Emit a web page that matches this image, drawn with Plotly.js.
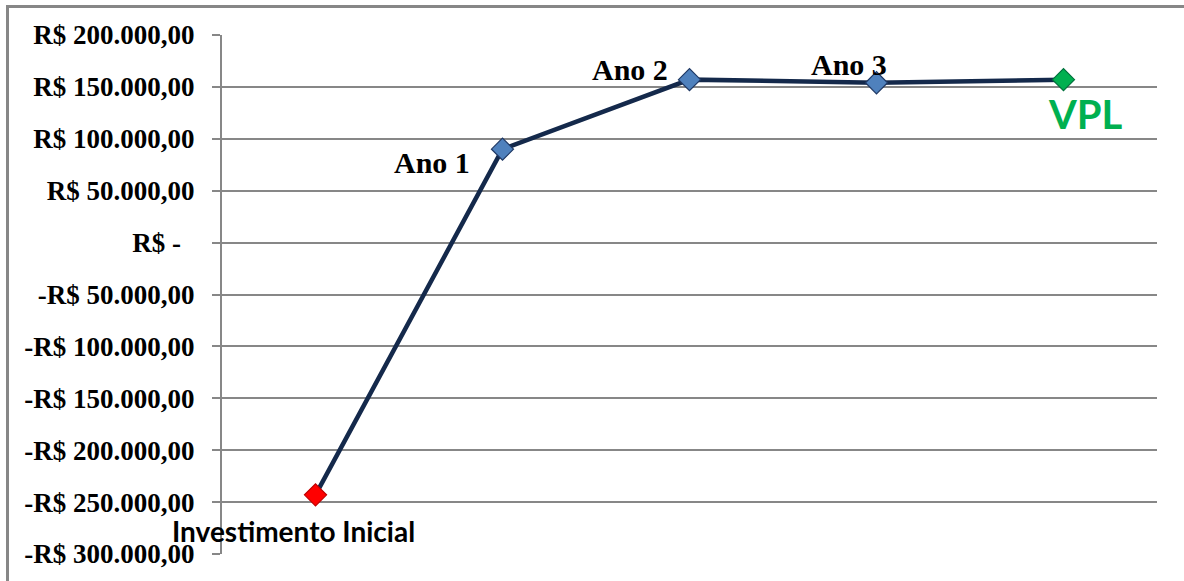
<!DOCTYPE html>
<html>
<head>
<meta charset="utf-8">
<script src="https://cdn.plot.ly/plotly-3.0.1.min.js"></script>
<style>
  html, body { margin: 0; padding: 0; background: #fff; }
  #wrap { position: relative; width: 1184px; height: 581px; overflow: hidden; }
  #frame { position: absolute; left: 6px; top: 5px; width: 1200px; height: 600px;
           border-left: 3px solid #878787; border-top: 3px solid #878787; box-sizing: border-box; }
  #chart { position: absolute; left: 0; top: 0; width: 1184px; height: 581px; }
</style>
</head>
<body>
<div id="wrap">
  <div id="frame"></div>
  <div id="chart"></div>
</div>
<script>
// Data
const categories = ["Investimento Inicial", "Ano 1", "Ano 2", "Ano 3", "VPL"];
const values = [-243000, 90000, 157000, 154000, 157000];
const markerColors = ["#FF0000", "#4F81BD", "#4F81BD", "#4F81BD", "#00B050"];
const markerLineColors = ["#C00000", "#1F3864", "#1F3864", "#1F3864", "#00703C"];
const tickValues = [200000, 150000, 100000, 50000, 0, -50000, -100000, -150000, -200000, -250000, -300000];
const tickLabels = ["R$ 200.000,00", "R$ 150.000,00", "R$ 100.000,00", "R$ 50.000,00", "R$ -\u00a0\u00a0",
  "-R$ 50.000,00", "-R$ 100.000,00", "-R$ 150.000,00", "-R$ 200.000,00", "-R$ 250.000,00", "-R$ 300.000,00"];

// Label styling (offsets in px from each point)
const serif = "'Liberation Serif', 'Times New Roman', serif";
const sans = "Lato, 'Noto Sans', sans-serif";
const labelStyle = [
  {xshift: -22, yshift: -36, font: {family: sans, size: 28, weight: 700, color: "#000"}},
  {xshift: -71, yshift: -13, font: {family: serif, size: 30, weight: 700, color: "#000"}},
  {xshift: -60, yshift: 10, font: {family: serif, size: 30, weight: 700, color: "#000"}},
  {xshift: -28, yshift: 18, font: {family: serif, size: 30, weight: 700, color: "#000"}},
  {xshift: 22, yshift: -34, font: {family: sans, size: 40, weight: 700, color: "#00B050"}}
];

const trace = {
  type: "scatter",
  mode: "lines+markers",
  x: categories,
  y: values,
  line: {color: "#14294B", width: 4.5},
  marker: {symbol: "diamond", size: 17, color: markerColors, line: {color: markerLineColors, width: 1.2}},
  hoverinfo: "none"
};

const annotations = categories.map((c, i) => Object.assign({
  x: c, y: values[i], xref: "x", yref: "y", text: c, showarrow: false,
  xanchor: "center", yanchor: "middle"
}, labelStyle[i]));

const layout = {
  width: 1184, height: 581,
  margin: {l: 222, r: 27, t: 35, b: 27, pad: 0},
  paper_bgcolor: "rgba(0,0,0,0)",
  plot_bgcolor: "rgba(0,0,0,0)",
  showlegend: false,
  xaxis: {
    type: "category", range: [-0.5, 4.5], showticklabels: false, showgrid: false,
    zeroline: false, showline: false, ticks: "", fixedrange: true
  },
  yaxis: {
    range: [-300000, 200000], tickvals: tickValues, ticktext: tickLabels,
    showgrid: true, gridcolor: "#878787", gridwidth: 2,
    zeroline: false, showline: true, linecolor: "#878787", linewidth: 2,
    ticks: "outside", ticklen: 8, tickcolor: "#878787", tickwidth: 2,
    ticklabelstandoff: 12,
    tickfont: {family: serif, size: 27, weight: 700, color: "#000"},
    fixedrange: true
  },
  annotations: annotations
};

Plotly.newPlot("chart", [trace], layout, {displayModeBar: false, staticPlot: true});
</script>
</body>
</html>
